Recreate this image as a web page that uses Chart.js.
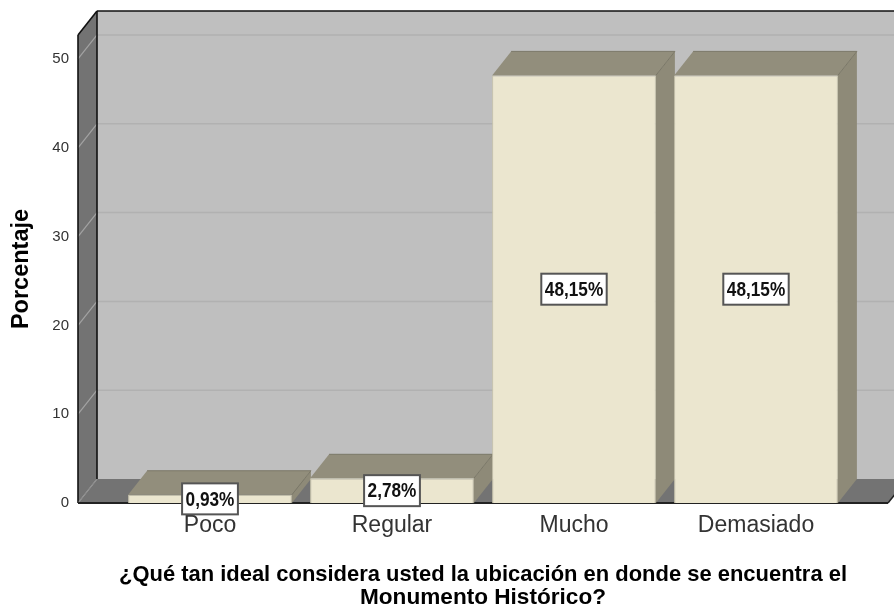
<!DOCTYPE html>
<html>
<head>
<meta charset="utf-8">
<style>
  html, body { margin: 0; padding: 0; background: #fff; }
  canvas { display: block; }
</style>
<script src="https://cdn.jsdelivr.net/npm/chart.js@4/dist/chart.umd.min.js"></script>
</head>
<body>
<canvas id="myChart" width="894" height="608"></canvas>
<script>
const categories = ["Poco", "Regular", "Mucho", "Demasiado"];
const percentages = [0.93, 2.78, 48.15, 48.15];
const tickValues = [0, 10, 20, 30, 40, 50];
const yTitle = "Porcentaje";
const xTitle = ["¿Qué tan ideal considera usted la ubicación en donde se encuentra el", "Monumento Histórico?"];

// depth of the fake 3d box, in pixels
const depthX = 19;
const depthY = 24;
const wallOverhang = 41;

function poly(ctx, pts, fill, stroke, lw) {
  ctx.beginPath();
  pts.forEach((p, i) => (i ? ctx.lineTo(p[0], p[1]) : ctx.moveTo(p[0], p[1])));
  ctx.closePath();
  ctx.fillStyle = fill;
  ctx.fill();
  if (stroke) {
    ctx.strokeStyle = stroke;
    ctx.lineWidth = lw || 1;
    ctx.stroke();
  }
}

function line(ctx, x1, y1, x2, y2, color, lw) {
  ctx.beginPath();
  ctx.moveTo(x1, y1);
  ctx.lineTo(x2, y2);
  ctx.strokeStyle = color;
  ctx.lineWidth = lw;
  ctx.stroke();
}

const box3d = {
  id: "box3d",
  beforeDatasetsDraw(chart) {
    const ctx = chart.ctx;
    const y = chart.scales.y;
    const a = chart.chartArea;
    const left = a.left - wallOverhang;
    const right = a.right + wallOverhang;
    const top = a.top;
    const zero = y.getPixelForValue(0);

    ctx.save();
    // back wall
    poly(ctx, [[left + depthX, top - depthY], [right + depthX, top - depthY], [right + depthX, zero - depthY], [left + depthX, zero - depthY]], "#bfbfbf");
    // left wall
    poly(ctx, [[left, top], [left + depthX, top - depthY], [left + depthX, zero - depthY], [left, zero]], "#737373");
    // floor
    poly(ctx, [[left, zero], [left + depthX, zero - depthY], [right + depthX, zero - depthY], [right, zero]], "#737373");

    // grid lines on the back wall and the left wall
    tickValues.forEach((v) => {
      const py = y.getPixelForValue(v);
      if (v > 0) {
        line(ctx, left + depthX, py - depthY, right + depthX, py - depthY, "#b1b1b1", 1.5);
      }
      line(ctx, left, py, left + depthX, py - depthY, "#a3a3a3", 1.2);
    });

    // black box outline
    line(ctx, left, zero, left, top, "#111", 1.6);
    line(ctx, left, top, left + depthX, top - depthY, "#111", 1.6);
    line(ctx, left + depthX, top - depthY, right + depthX, top - depthY, "#111", 1.6);
    line(ctx, left + depthX, top - depthY, left + depthX, zero - depthY, "#111", 1.6);
    line(ctx, left + depthX, zero - depthY, left, zero, "#8a8a8a", 1);
    line(ctx, left, zero, right, zero, "#222", 2);
    line(ctx, right, zero, right + depthX, zero - depthY, "#222", 1.5);

    // top and side of every bar
    const meta = chart.getDatasetMeta(0);
    meta.data.forEach((bar) => {
      const half = bar.width / 2;
      const l = bar.x - half;
      const r = bar.x + half;
      poly(ctx, [[r, bar.y], [r + depthX, bar.y - depthY], [r + depthX, zero - depthY], [r, zero]], "#8e8a78");
      poly(ctx, [[l, bar.y], [l + depthX, bar.y - depthY], [r + depthX, bar.y - depthY], [r, bar.y]], "#928e7c");
      line(ctx, l + depthX, bar.y - depthY, r + depthX, bar.y - depthY, "#7b7868", 1);
      line(ctx, r, bar.y, r + depthX, bar.y - depthY, "#7b7868", 1);
    });
    ctx.restore();
  },
  afterDatasetsDraw(chart) {
    const ctx = chart.ctx;
    const meta = chart.getDatasetMeta(0);
    const squeeze = 0.82; // the value labels use a condensed bold face
    ctx.save();
    ctx.font = "bold 21px 'Liberation Sans'";
    ctx.textAlign = "center";
    ctx.textBaseline = "middle";
    meta.data.forEach((bar, i) => {
      const label = percentages[i].toFixed(2).replace(".", ",") + "%";
      const cy = (bar.y + bar.base) / 2;
      const w = ctx.measureText(label).width * squeeze + 7;
      const h = 31;
      ctx.fillStyle = "#fff";
      ctx.fillRect(bar.x - w / 2, cy - h / 2, w, h);
      ctx.strokeStyle = "#555";
      ctx.lineWidth = 2;
      ctx.strokeRect(bar.x - w / 2, cy - h / 2, w, h);
      ctx.save();
      ctx.translate(bar.x, cy + 1);
      ctx.scale(squeeze, 1);
      ctx.fillStyle = "#111";
      ctx.fillText(label, 0, 0);
      ctx.restore();
    });
    ctx.restore();
  },
};

new Chart(document.getElementById("myChart"), {
  type: "bar",
  data: {
    labels: categories,
    datasets: [
      {
        data: percentages,
        backgroundColor: "#ebe6cf",
        borderColor: "#c9c5ae",
        borderWidth: 1,
        barPercentage: 0.9,
        categoryPercentage: 1,
      },
    ],
  },
  options: {
    responsive: false,
    animation: false,
    layout: { padding: { top: 35, right: 47, left: 0, bottom: 0 } },
    plugins: { legend: { display: false }, tooltip: { enabled: false } },
    scales: {
      x: {
        grid: { display: false },
        border: { display: false },
        ticks: {
          color: "#333",
          font: { family: "'Liberation Sans', Arial", size: 23 },
          padding: 1,
          maxRotation: 0,
        },
        afterFit: (scale) => {
          scale.height = 105;
        },
        title: {
          display: true,
          text: xTitle,
          color: "#000",
          font: { family: "'Liberation Sans', Arial", size: 22.6, weight: "bold", lineHeight: 1.02 },
          padding: { top: 0, bottom: -1 },
        },
      },
      y: {
        min: 0,
        max: 52.7,
        grid: { display: false, drawTicks: false },
        border: { display: false },
        afterBuildTicks: (scale) => {
          scale.ticks = tickValues.map((v) => ({ value: v }));
        },
        afterFit: (scale) => {
          // big tick padding also gets counted as vertical padding, drop it
          scale.width = 119;
          scale.paddingTop = 0;
          scale.paddingBottom = 0;
        },
        ticks: {
          color: "#333",
          font: { family: "'Liberation Sans', Arial", size: 15 },
          padding: 50,
        },
        title: {
          display: true,
          text: yTitle,
          color: "#000",
          font: { family: "'Liberation Sans', Arial", size: 23.5, weight: "bold" },
          padding: { top: 7, bottom: 0 },
        },
      },
    },
  },
  plugins: [box3d],
});
</script>
</body>
</html>
